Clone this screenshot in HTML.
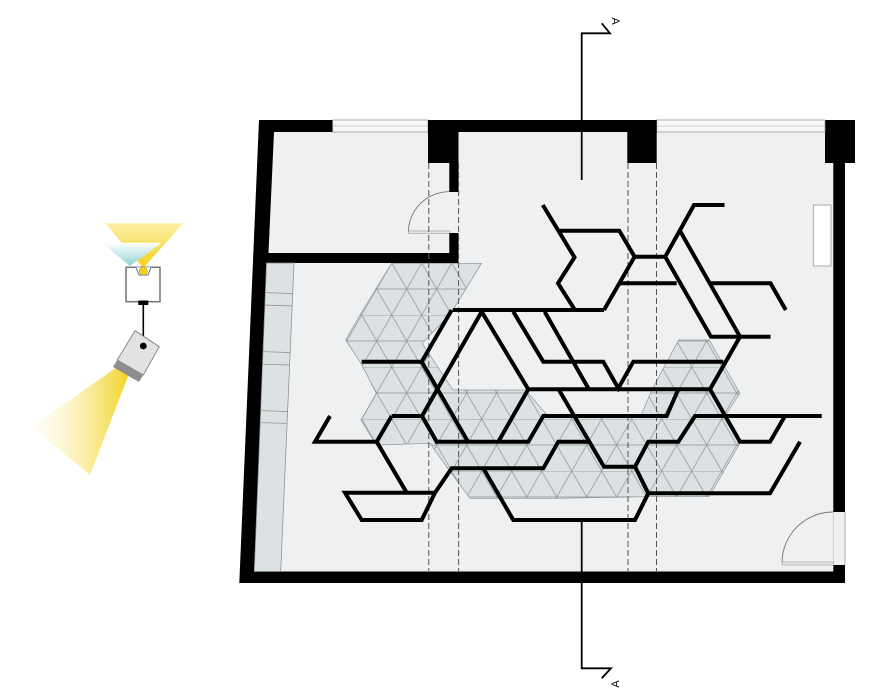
<!DOCTYPE html>
<html><head><meta charset="utf-8"><style>html,body{margin:0;padding:0;background:#fff}svg{display:block}</style></head>
<body>
<svg width="892" height="700" viewBox="0 0 892 700" xmlns="http://www.w3.org/2000/svg">
<defs>
<pattern id="tri" patternUnits="userSpaceOnUse" x="361.7" y="315" width="30" height="52">
<rect width="30" height="52" fill="#dce2e3"/>
<path d="M0 0H30M0 26H30M0 0L30 52M30 0L0 52" stroke="#8e9394" stroke-width="0.7" fill="none"/>
</pattern>
<linearGradient id="yb" x1="0" y1="0" x2="1" y2="0"><stop offset="0" stop-color="#fffbe0" stop-opacity="0.2"/><stop offset="1" stop-color="#f3d21c"/></linearGradient>
<linearGradient id="yt" x1="0" y1="0" x2="0" y2="1"><stop offset="0" stop-color="#fbf0a8"/><stop offset="1" stop-color="#f3d21c"/></linearGradient>
<linearGradient id="ct" x1="0" y1="0" x2="0" y2="1"><stop offset="0" stop-color="#ffffff"/><stop offset="1" stop-color="#8fd3d8"/></linearGradient>
</defs>

<!-- lamp icon -->
<polygon points="105,223.3 183.3,223.3 143.3,268" fill="url(#yt)"/>
<polygon points="101.7,242.7 161.7,242.7 130,266" fill="url(#ct)"/>
<rect x="126" y="267.3" width="34" height="34.4" fill="#fff" stroke="#6b7580" stroke-width="1.5"/>
<path d="M136 267.3 L139 275 L148 275 L151 267.3" fill="#fff" stroke="#6b7580" stroke-width="1"/>
<circle cx="143.3" cy="271" r="4" fill="#f5d21a" stroke="#b79a10" stroke-width="0.6"/>
<rect x="138.3" y="300.5" width="10" height="4.5" fill="#000"/>
<line x1="143.3" y1="305" x2="143.3" y2="346" stroke="#000" stroke-width="1.6"/>
<polygon points="120,365 130,371 90,475 31.7,426.7" fill="url(#yb)"/>
<polygon points="135,330.7 159.3,346.7 143.3,375 117.3,360" fill="#e2e2e2" stroke="#888" stroke-width="1"/>
<polygon points="117.3,360 143.3,375 139,382 113,367" fill="#8d8d8d"/>
<circle cx="143.3" cy="346" r="3.4" fill="#000"/>

<!-- floor plan walls -->
<polygon points="259,120 855,120 855,163 845,163 845,583 239.3,583" fill="#000"/>
<polygon points="274,132 825,132 825,163 833.3,163 833.3,571.5 254,571.5" fill="#eff0f2"/>
<rect x="332.7" y="120" width="95.3" height="12" fill="#f7f7f7" stroke="#999" stroke-width="0.8"/>
<line x1="332.7" y1="126" x2="428" y2="126" stroke="#aaa" stroke-width="0.6"/>
<rect x="656.7" y="120" width="168.3" height="12" fill="#f7f7f7" stroke="#999" stroke-width="0.8"/>
<line x1="656.7" y1="126" x2="825" y2="126" stroke="#aaa" stroke-width="0.6"/>
<rect x="428" y="120" width="30.5" height="43" fill="#000"/>
<rect x="627.3" y="120" width="29.4" height="43" fill="#000"/>
<rect x="449.3" y="163" width="9.2" height="29" fill="#000"/>
<rect x="449.3" y="233" width="9.2" height="30" fill="#000"/>
<polygon points="267,253 458.5,253 458.5,263 266.5,263" fill="#000"/>
<path d="M449.3 191.7 A41 41 0 0 0 408.3 232.7" fill="none" stroke="#777" stroke-width="0.9"/>
<rect x="408.3" y="231" width="41" height="2.2" fill="#eee" stroke="#888" stroke-width="0.6"/>
<rect x="833.3" y="512" width="12" height="53" fill="#eff0f2"/>
<line x1="845" y1="512" x2="845" y2="565" stroke="#aaa" stroke-width="1"/>
<path d="M833.3 512 A51 51 0 0 0 782 562" fill="none" stroke="#777" stroke-width="0.9"/>
<rect x="782" y="562" width="51.3" height="3" fill="#e6e6e6" stroke="#999" stroke-width="0.6"/>
<rect x="257" y="468" width="10" height="15" fill="#000"/>
<polygon points="266.5,263 294,263 280.7,571.5 254.3,571.5" fill="#dce2e3" stroke="#888" stroke-width="0.7"/>
<g stroke="#888" stroke-width="0.7">
<line x1="265.5" y1="292.7" x2="292.5" y2="293.5"/><line x1="265" y1="305" x2="292" y2="306"/>
<line x1="263.5" y1="351.7" x2="290" y2="352.5"/><line x1="263" y1="364.3" x2="289.5" y2="365"/>
<line x1="261.5" y1="410.7" x2="287" y2="411.5"/><line x1="261" y1="422.7" x2="286.5" y2="423.3"/>
</g>
<rect x="813.3" y="205" width="17.7" height="61" fill="#fff" stroke="#999" stroke-width="0.8"/>

<polygon fill="url(#tri)" stroke="#8e9394" stroke-width="0.7" points="391.6,263.3 481.5,263.3 450.9,313.3 422.2,343.3 452.8,390 525.5,390 548.5,416.7 640.4,416.7 651.8,390 678.6,340 709.2,340 739.9,393.3 724.5,416.7 739.9,443.3 709.2,496.7 648,496.7 556.2,498.3 470,498.3 449,470 430,443.3 376.3,445 361,420 376.3,393.3 361,363.3 345.7,340 361,313.3"/>

<g stroke="#555" stroke-width="1" stroke-dasharray="6,3">
<line x1="428.8" y1="163" x2="428.8" y2="571"/><line x1="458.6" y1="163" x2="458.6" y2="571"/>
<line x1="628" y1="163" x2="628" y2="571"/><line x1="656.5" y1="163" x2="656.5" y2="571"/>
</g>

<g fill="none" stroke="#000" stroke-width="4" stroke-linejoin="miter" stroke-linecap="butt">
<polyline points="542.8,205 574.5,257.3 558,283.3 574.5,309.3"/>
<polyline points="560,230.7 619.3,230.7 634.6,256.7 665.2,256.7"/>
<polyline points="634.6,256.7 604,310"/>
<polyline points="619.3,283.3 676.7,283.3"/>
<polyline points="452.8,310 604,310"/>
<polyline points="724.5,205 694,205 665.2,256.7 711,336.7 770.5,336.7"/>
<polyline points="680.5,231.7 740,336.7 710,389.3"/>
<polyline points="711,283.3 770.5,283.3 785.8,310"/>
<polyline points="723.3,361.7 633.3,361.7 618.3,388.3 603.3,361.7 543.3,361.7 513.3,311.7"/>
<polyline points="544.7,311.7 588.3,388.3"/>
<polyline points="528.3,389.3 710,389.3"/>
<polyline points="422,416 481.7,311.7 528.3,389.3 498.3,441.7"/>
<polyline points="451.7,310 421.7,361.7 468,441.7"/>
<polyline points="361.7,361.7 421.7,361.7"/>
<polyline points="435,441.7 528.3,441.7 543.3,416 666.7,416 678.3,389.3"/>
<polyline points="391.7,416 422,416 436.7,441.7"/>
<polyline points="330,416 315,441.7 376.7,441.7 391.7,416"/>
<polyline points="376.7,441.7 406.7,492.7"/>
<polygon points="345,492.7 361.7,520 421.7,520 435,492.7"/>
<polyline points="435,492.7 451.7,468.3 543.3,468.3 558.3,441.7 588.7,441.7"/>
<polyline points="483.3,468.3 513.3,520 635,520 648.3,493.3 770,493.3 800,441.7"/>
<polyline points="559,390 604,466.7 635,466.7 648.3,441.7 678.3,441.7 695,416 821.7,416"/>
<polyline points="635,466.7 648.3,493.3"/>
<polyline points="710,389.3 740,441.7 770,441.7 785,416"/>
</g>

<g fill="none" stroke="#000" stroke-width="1.8">
<polyline points="581.7,180 581.7,33.3 610,33.3 601.7,23.3"/>
<polyline points="581.7,520 581.7,668.3 611,668.3 601.7,678.3"/>
</g>
<text x="615" y="21" font-family="Liberation Sans, sans-serif" font-size="11" transform="rotate(90 615 21)" text-anchor="middle" dominant-baseline="middle">A</text>
<text x="616" y="684" font-family="Liberation Sans, sans-serif" font-size="11" transform="rotate(-90 616 684)" text-anchor="middle" dominant-baseline="middle">A</text>
</svg>
</body></html>
